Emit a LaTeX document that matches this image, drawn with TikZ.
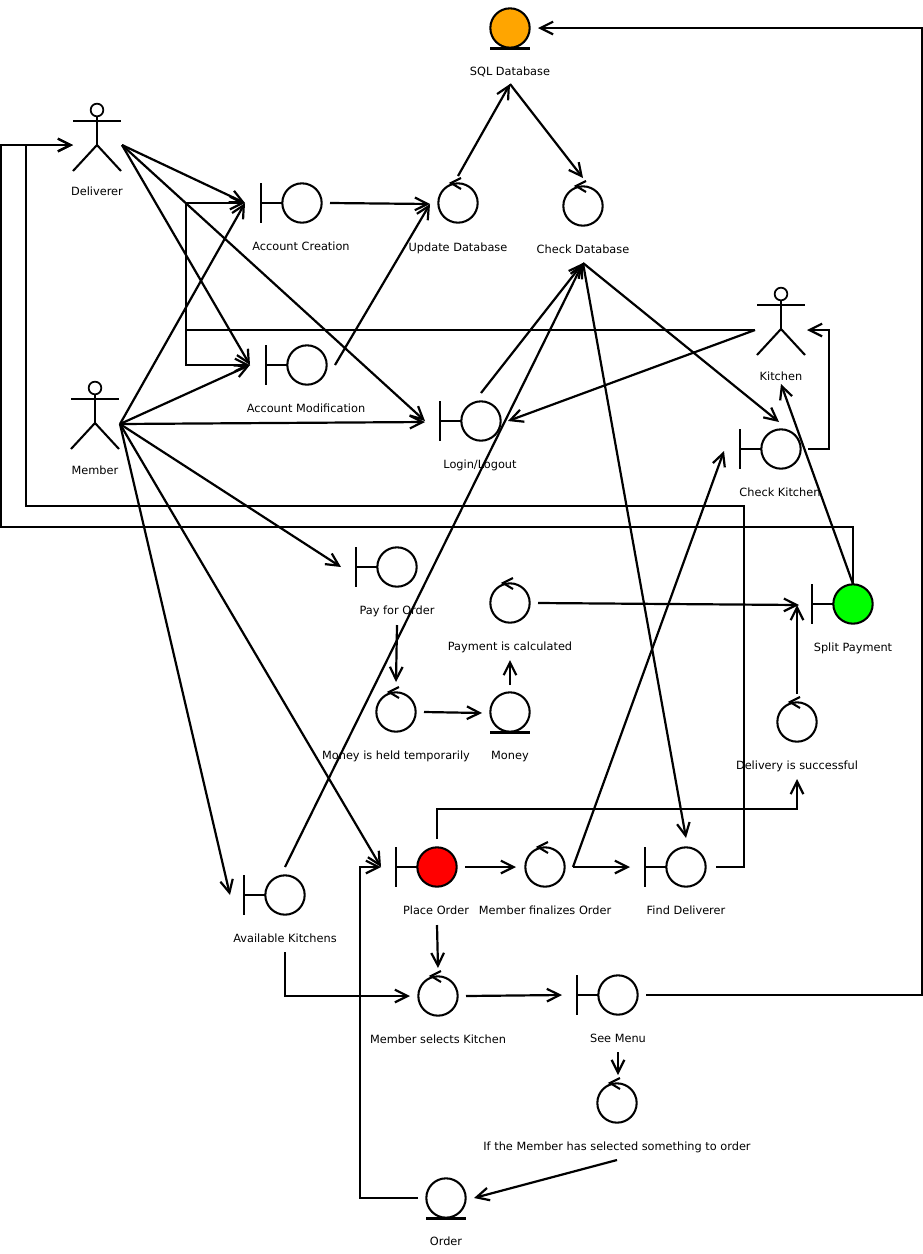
\documentclass[tikz,border=0pt]{standalone}
\usepackage{fontspec}
\setmainfont{DejaVu Sans}
\usetikzlibrary{arrows.meta,calc}
\definecolor{sqlorange}{RGB}{255,165,0}
\tikzset{
  conn/.style={line width=1.65pt,-{Straight Barb[length=9.5pt,width=9.5pt,line width=1.65pt]},line join=miter},
  plainconn/.style={line width=1.65pt,line join=miter},
  icon/.style={line width=1.55pt,line cap=butt},
  ball/.style={circle,draw,line width=1.55pt,minimum size=29.5pt,inner sep=0pt,outer sep=0pt},
  anchorpt/.style={inner sep=0pt,outer sep=0pt,minimum size=0pt},
  lbl/.style={font=\fontsize{8.5}{10}\selectfont,inner sep=0pt,text=black,anchor=base,yshift=-3.4pt}
}
% #1 name, #2 x, #3 y (circle centre), #4 label, #5 label x, #6 label y, #7 fill
\newcommand{\boundaryicon}[7]{%
  \node[ball,fill=#7] (#1) at (#2,#3) {};
  \draw[icon] ($(#1)+(-41,-20)$) -- ($(#1)+(-41,20)$);
  \draw[icon] ($(#1)+(-41,0)$) -- ($(#1)+(-20,0)$);
  \node[lbl] (#1l) at (#5,#6) {#4};
}
\newcommand{\controlicon}[6]{%
  \node[ball] (#1) at (#2,#3) {};
  \draw[icon] ($(#1)+(3,-25)$) -- ($(#1)+(-7,-20)$) -- ($(#1)+(3,-14)$);
  \node[lbl] (#1l) at (#5,#6) {#4};
}
\newcommand{\entityicon}[7]{%
  \node[ball,fill=#7] (#1) at (#2,#3) {};
  \draw[icon] ($(#1)+(-20,20.5)$) -- ($(#1)+(20,20.5)$);
  \node[lbl] (#1l) at (#5,#6) {#4};
}
% #1 name, #2 x, #3 hip y, #4 label, #5 label y
\newcommand{\actoricon}[5]{%
  \node[anchorpt] (#1) at (#2,#3) {};
  \node[circle,draw,line width=1.3pt,minimum size=9.5pt,inner sep=0pt] (#1h) at ($(#1)+(0,-35)$) {};
  \draw[icon] (#1h.south) -- (#1);
  \draw[icon] ($(#1)+(-24,-24)$) -- ($(#1)+(24,-24)$);
  \draw[icon] ($(#1)+(-24,26)$) -- (#1) -- ($(#1)+(24,26)$);
  \node[lbl] (#1l) at (#2,#5) {#4};
}
\begin{document}
\begin{tikzpicture}[x=0.75pt,y=-0.75pt]
\useasboundingbox (0,0) rectangle (923,1254);
\fill[white] (0,0) rectangle (923,1254);
% actors
\actoricon{del}{97}{145}{Deliverer}{191}
\actoricon{mem}{95}{423}{Member}{470}
\actoricon{kit}{781}{329}{Kitchen}{376}
% entities
\entityicon{sql}{510}{28}{SQL Database}{510}{71}{sqlorange}
\entityicon{mon}{510}{712}{Money}{510}{755}{white}
\entityicon{ord}{446}{1198}{Order}{446}{1241}{white}
% boundaries
\boundaryicon{acc}{302}{203}{Account Creation}{301}{246}{white}
\boundaryicon{acm}{307}{365}{Account Modification}{306}{408}{white}
\boundaryicon{log}{481}{421}{Login/Logout}{480}{464}{white}
\boundaryicon{chk}{781}{449}{Check Kitchen}{780}{492}{white}
\boundaryicon{pay}{397}{567}{Pay for Order}{397}{610}{white}
\boundaryicon{spl}{853}{604}{Split Payment}{853}{647}{green}
\boundaryicon{avk}{285}{895}{Available Kitchens}{285}{938}{white}
\boundaryicon{plc}{437}{867}{Place Order}{436}{910}{red}
\boundaryicon{fnd}{686}{867}{Find Deliverer}{686}{910}{white}
\boundaryicon{see}{618}{995}{See Menu}{618}{1038}{white}
% controls
\controlicon{upd}{458}{203}{Update Database}{458}{247}
\controlicon{cdb}{583}{206}{Check Database}{583}{249}
\controlicon{cal}{510}{603}{Payment is calculated}{510}{646}
\controlicon{hld}{396}{712}{Money is held temporarily}{396}{755}
\controlicon{dlv}{797}{722}{Delivery is successful}{797}{765}
\controlicon{fin}{545}{867}{Member finalizes Order}{545}{910}
\controlicon{sel}{438}{996}{Member selects Kitchen}{438}{1039}
\controlicon{ifs}{617}{1103}{If the Member has selected something to order}{617}{1146}
% deliverer outgoing
\draw[conn] ($(del)+(25,0)$) -- ($(acc)+(-57,0)$);
\draw[conn] ($(del)+(25,0)$) -- ($(acm)+(-57,0)$);
\draw[conn] ($(del)+(25,0)$) -- ($(log)+(-56,0)$);
% member outgoing
\draw[conn] ($(mem)+(25,1)$) -- ($(acc)+(-57,0)$);
\draw[conn] ($(mem)+(25,1)$) -- ($(acm)+(-57,0)$);
\draw[conn] ($(mem)+(25,1)$) -- ($(log)+(-56,1)$);
\draw[conn] ($(mem)+(25,1)$) -- ($(pay)+(-56,0)$);
\draw[conn] ($(mem)+(25,1)$) -- ($(avk)+(-55,0)$);
\draw[conn] ($(mem)+(25,1)$) -- ($(plc)+(-56,0)$);
% kitchen outgoing
\draw[plainconn] ($(kit)+(-26,1)$) -- ($(acc)+(-116,127)$) -- ($(acc)+(-116,0)$);
\draw[conn] ($(acc)+(-116,0)$) -- ($(acc)+(-57,0)$);
\draw[conn] ($(acc)+(-116,127)$) -- ($(acm)+(-121,0)$) -- ($(acm)+(-57,0)$);
\draw[conn] ($(kit)+(-26,1)$) -- ($(log)+(27,0)$);
% account to database
\draw[conn] ($(acc)+(28,0)$) -- ($(upd)+(-28,1)$);
\draw[conn] ($(acm)+(28,0)$) -- ($(upd)+(-28,1)$);
\draw[conn] ($(upd)+(0,-27)$) -- ($(sql)+(0,56)$);
\draw[conn] ($(sql)+(0,56)$) -- ($(cdb)+(0,-28)$);
\draw[conn] ($(see)+(28,0)$) -- (922,995) -- (922,28) -- ($(sql)+(28,0)$);
% check database
\draw[conn] ($(log)+(0,-28)$) -- ($(cdb)+(0,57)$);
\draw[conn] ($(avk)+(0,-28)$) -- ($(cdb)+(0,57)$);
\draw[conn] ($(cdb)+(0,57)$) -- ($(chk)+(-2,-27)$);
\draw[conn] ($(cdb)+(0,57)$) -- ($(fnd)+(0,-29)$);
% kitchen loop
\draw[conn] ($(chk)+(27,0)$) -- ($(kit)+(48,120)$) -- ($(kit)+(48,1)$) -- ($(kit)+(26,1)$);
\draw[conn] ($(spl)+(0,-20)$) -- ($(kit)+(0,55)$);
% to deliverer
\draw[conn] ($(spl)+(0,-20)$) -- ($(spl)+(0,-77)$) -- (1,527) -- (1,145) -- ($(del)+(-24,0)$);
\draw[conn] ($(fnd)+(30,0)$) -- (744,867) -- (744,506) -- (26,506) -- (26,145) -- ($(del)+(-24,0)$);
% order flow
\draw[conn] ($(plc)+(28,0)$) -- ($(fin)+(-29,0)$);
\draw[conn] ($(fin)+(28,0)$) -- ($(fnd)+(-56,0)$);
\draw[conn] ($(fin)+(28,0)$) -- ($(chk)+(-57,2)$);
\draw[conn] ($(plc)+(0,-28)$) -- (437,809) -- (797,809) -- ($(dlv)+(0,57)$);
\draw[conn] ($(plc)+(0,58)$) -- ($(sel)+(0,-28)$);
\draw[conn] ($(dlv)+(0,-28)$) -- ($(spl)+(-56,1)$);
\draw[conn] ($(cal)+(28,0)$) -- ($(spl)+(-54,1)$);
\draw[conn] ($(pay)+(0,58)$) -- ($(hld)+(0,-30)$);
\draw[conn] ($(hld)+(28,0)$) -- ($(mon)+(-28,1)$);
\draw[conn] ($(mon)+(0,-27)$) -- ($(cal)+(0,57)$);
\draw[conn] ($(avk)+(0,57)$) -- ($(avk)+(0,101)$) -- ($(sel)+(-28,0)$);
\draw[conn] ($(sel)+(28,0)$) -- ($(see)+(-56,0)$);
\draw[conn] ($(see)+(0,57)$) -- ($(ifs)+(1,-28)$);
\draw[conn] ($(ifs)+(0,57)$) -- ($(ord)+(28,0)$);
\draw[conn] ($(ord)+(-28,0)$) -- (360,1198) -- (360,867) -- ($(plc)+(-56,0)$);
\end{tikzpicture}
\end{document}
